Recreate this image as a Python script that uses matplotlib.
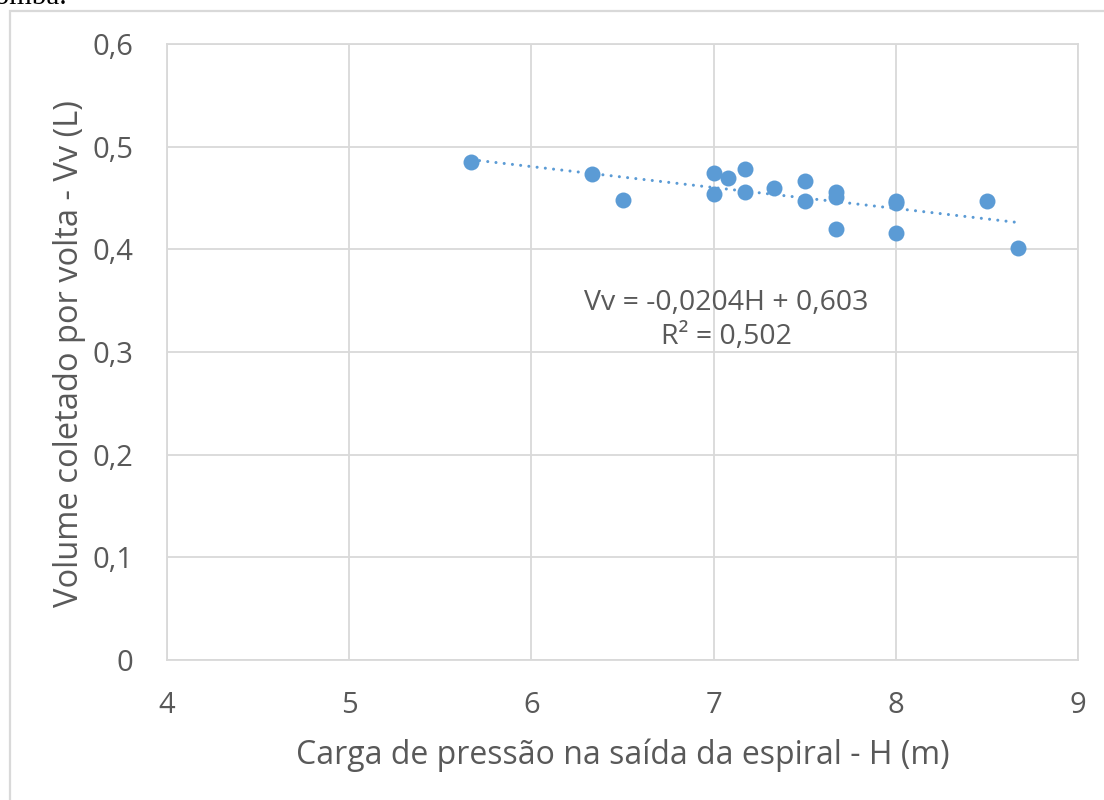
import numpy as np
import matplotlib.pyplot as plt
from matplotlib.patches import Rectangle

# carga de pressão (m) e volume por volta (L)
H = [5.67, 6.33, 6.50, 7.00, 7.00, 7.08, 7.17, 7.17, 7.33, 7.50, 7.50,
     7.67, 7.67, 7.67, 8.00, 8.00, 8.00, 8.50, 8.67]
Vv = [0.485, 0.473, 0.448, 0.474, 0.454, 0.469, 0.478, 0.456, 0.460, 0.467, 0.447,
      0.456, 0.451, 0.420, 0.447, 0.445, 0.416, 0.447, 0.401]

# linha de tendência linear (Excel)
a = -0.0204
b = 0.603
r2 = 0.502

xticks = [4, 5, 6, 7, 8, 9]
yticks = [0, 0.1, 0.2, 0.3, 0.4, 0.5, 0.6]

azul = '#5B9BD5'
cinza = '#595959'
grade = '#D9D9D9'

plt.rcParams['font.family'] = ['Open Sans', 'DejaVu Sans']

fig = plt.figure(figsize=(11.04, 8), dpi=100)
ax = fig.add_axes([167/1104, 1-660/800, (1078-167)/1104, (660-44)/800])

# moldura do gráfico
fig.patches.append(Rectangle((10/1104, -0.1), 1.2, 0.1+1-11/800, transform=fig.transFigure,
                             fill=False, edgecolor=grade, linewidth=1.6, zorder=0))
fig.text(-0.017, 0.995, 'bomba.', fontsize=21, family='Liberation Serif', color='black',
         va='baseline', ha='left')

ax.scatter(H, Vv, s=11.5**2, color=azul, zorder=3, linewidths=0)

xt = np.array([min(H), max(H)])
ax.plot(xt, a*xt + b, color=azul, linewidth=2.2, linestyle=(0, (0.01, 2.7)),
        dash_capstyle='round', zorder=2)

eq = f'Vv = {a:.4f}H + {b:.3f}'.replace('.', ',')
ax.text(7.07, 0.331, eq + '\n' + f'R² = {r2:.3f}'.replace('.', ','), ha='center', va='center',
        fontsize=20.5, color=cinza, linespacing=1.3)

ax.set_xlim(4, 9)
ax.set_ylim(0, 0.6)
ax.set_xticks(xticks)
ax.set_yticks(yticks)
ax.set_xticklabels([str(v) for v in xticks])
ax.set_yticklabels([f'{v:.1f}'.replace('.', ',') if v else '0' for v in yticks])
ax.tick_params(length=0, labelsize=21, labelcolor=cinza)
ax.tick_params(axis='x', pad=22)
ax.tick_params(axis='y', pad=24)
ax.grid(True, color=grade, linewidth=1.3)
ax.set_axisbelow(True)
for s in ax.spines.values():
    s.set_color(grade)
    s.set_linewidth(1.3)

ax.set_xlabel('Carga de pressão na saída da espiral - H (m)', fontsize=23, color=cinza, labelpad=14)
ax.set_ylabel('Volume coletado por volta - Vv (L)', fontsize=23.5, color=cinza, va='center')
ax.yaxis.set_label_coords(-0.107, 0.497)

fig.savefig('out.png', dpi=100)
